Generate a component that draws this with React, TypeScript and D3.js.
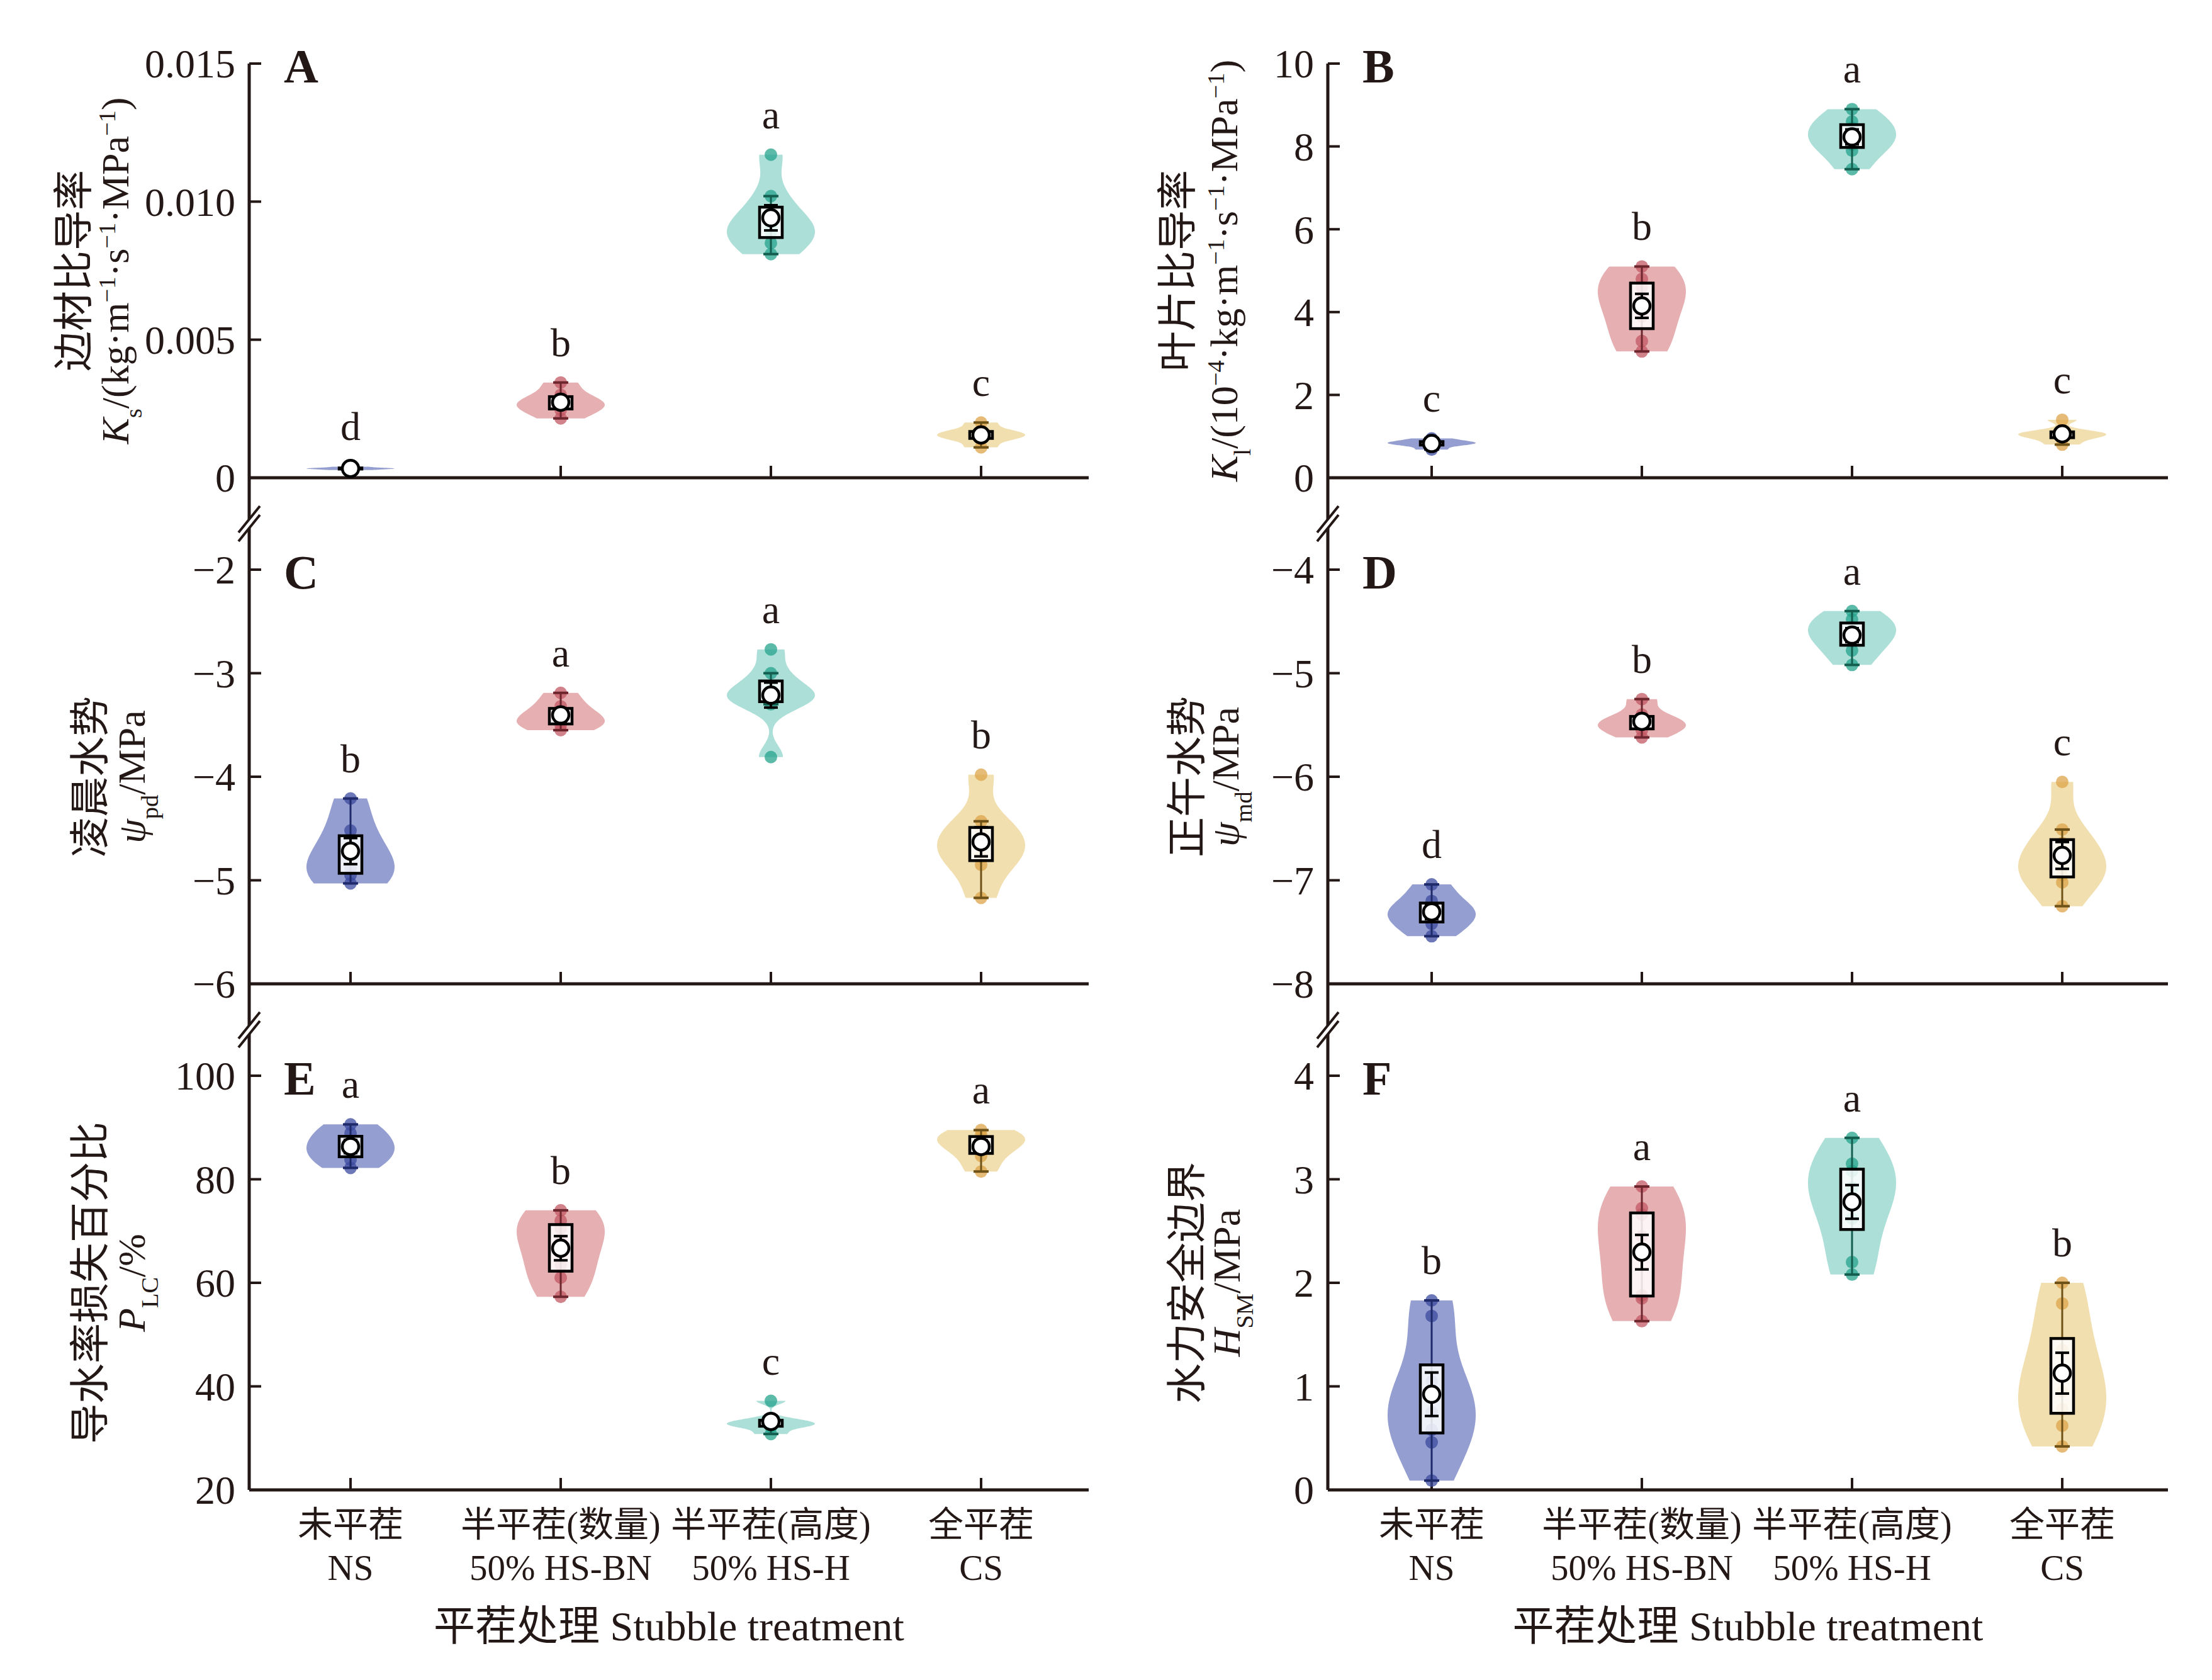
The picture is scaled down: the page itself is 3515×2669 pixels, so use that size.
import React from "react";
import * as d3 from "d3";

// groups and their labels
const groups = ["NS", "HS-BN", "HS-H", "CS"];
const groupNamesCn = ["未平茬", "半平茬(数量)", "半平茬(高度)", "全平茬"];
const groupNamesEn = ["NS", "50% HS-BN", "50% HS-H", "CS"];

const fillColors = ["#8a93cb", "#e3a7ab", "#a3dcd3", "#f0dba7"];
const pointColors = ["#3c4ba0", "#c25863", "#26a38c", "#dca44a"];
const whiskerColors = ["#1f2a6b", "#6e262e", "#145e50", "#6e5218"];

// A: sapwood specific conductivity Ks
const ksValues = [
  [0.00028, 0.00031, 0.00033, 0.00034, 0.00036, 0.0004],
  [0.00215, 0.00245, 0.00262, 0.00275, 0.003, 0.00345],
  [0.0081, 0.0085, 0.0089, 0.0091, 0.0094, 0.0102, 0.0117],
  [0.0011, 0.0014, 0.0015, 0.0016, 0.0017, 0.002],
];
const ksLetters = ["d", "b", "a", "c"];
const ksTicks = [0, 0.005, 0.01, 0.015];
const ksTickLabels = ["0", "0.005", "0.010", "0.015"];

// B: leaf specific conductivity Kl
const klValues = [
  [0.68, 0.78, 0.82, 0.85, 0.88, 0.95],
  [3.05, 3.3, 3.9, 4.3, 4.6, 4.8, 5.1],
  [7.45, 7.9, 8.05, 8.25, 8.45, 8.6, 8.9],
  [0.8, 0.95, 1.02, 1.07, 1.12, 1.4],
];
const klLetters = ["c", "b", "a", "c"];
const klTicks = [0, 2, 4, 6, 8, 10];
const klTickLabels = ["0", "2", "4", "6", "8", "10"];

// C: predawn water potential
const pdValues = [
  [-5.03, -4.95, -4.88, -4.72, -4.52, -4.21],
  [-3.55, -3.5, -3.46, -3.4, -3.32, -3.19],
  [-3.81, -3.3, -3.25, -3.2, -3.15, -3.0, -2.77],
  [-5.17, -4.85, -4.77, -4.65, -4.55, -4.43, -3.98],
];
const pdLetters = ["b", "a", "a", "b"];
const pdTicks = [-6, -5, -4, -3, -2];
const pdTickLabels = ["−6", "−5", "−4", "−3", "−2"];

// D: midday water potential
const mdValues = [
  [-7.54, -7.42, -7.35, -7.28, -7.2, -7.04],
  [-5.62, -5.55, -5.5, -5.47, -5.4, -5.25],
  [-4.92, -4.78, -4.68, -4.62, -4.55, -4.48, -4.4],
  [-7.25, -7.02, -6.95, -6.88, -6.78, -6.64, -6.51, -6.05],
];
const mdLetters = ["d", "b", "a", "c"];
const mdTicks = [-8, -7, -6, -5, -4];
const mdTickLabels = ["−8", "−7", "−6", "−5", "−4"];

// E: percent loss of conductivity
const plcValues = [
  [82.2, 83.8, 86.0, 86.5, 88.9, 90.6],
  [57.3, 61.0, 63.5, 68.5, 70.5, 72.0, 74.0],
  [30.8, 32.2, 32.6, 33.0, 33.6, 37.2],
  [81.5, 84.5, 86.5, 87.5, 88.5, 89.5],
];
const plcLetters = ["a", "b", "c", "a"];
const plcTicks = [20, 40, 60, 80, 100];
const plcTickLabels = ["20", "40", "60", "80", "100"];

// F: hydraulic safety margin
const hsmValues = [
  [0.09, 0.46, 0.58, 0.75, 0.95, 1.05, 1.68, 1.83],
  [1.63, 1.85, 1.88, 2.25, 2.45, 2.66, 2.72, 2.93],
  [2.08, 2.2, 2.62, 2.8, 2.92, 3.08, 3.15, 3.4],
  [0.42, 0.62, 0.78, 0.95, 1.1, 1.35, 1.8, 2.0],
];
const hsmLetters = ["b", "a", "a", "b"];
const hsmTicks = [0, 1, 2, 3, 4];
const hsmTickLabels = ["0", "1", "2", "3", "4"];

const W = 3515;
const H = 2669;
const colX0 = [396, 2110];
const colX1 = [1730, 3445];
const catOffset = [161, 165];
const catStep = 334;
const rowTop = [101, 905, 1709];
const rowH = 658;

const serif = "'Liberation Serif', 'Times New Roman', serif";
const cjk = "'Liberation Serif', 'Noto Sans CJK SC', serif";

const sup = (t: string) => (
  <tspan baselineShift="super" fontSize="62%">
    {t}
  </tspan>
);
const sub = (t: string) => (
  <tspan baselineShift="sub" fontSize="62%">
    {t}
  </tspan>
);

const catScale = (col: number) =>
  d3
    .scalePoint<string>()
    .domain(groups)
    .range([colX0[col] + catOffset[col], colX0[col] + catOffset[col] + 3 * catStep]);

interface PanelSpec {
  letter: string;
  col: number;
  row: number;
  values: number[][];
  letters: string[];
  ticks: number[];
  tickLabels: string[];
  label1: string;
  label2: React.ReactNode;
  label1X: number;
  label2X: number;
}

const panels: PanelSpec[] = [
  {
    letter: "A", col: 0, row: 0, values: ksValues, letters: ksLetters,
    ticks: ksTicks, tickLabels: ksTickLabels, label1: "边材比导率",
    label2: (
      <>
        <tspan fontStyle="italic">K</tspan>{sub("s")}
        <tspan>/(kg·m</tspan>{sup("−1")}<tspan>·s</tspan>{sup("−1")}
        <tspan>·MPa</tspan>{sup("−1")}<tspan>)</tspan>
      </>
    ),
    label1X: 111, label2X: 204,
  },
  {
    letter: "B", col: 1, row: 0, values: klValues, letters: klLetters,
    ticks: klTicks, tickLabels: klTickLabels, label1: "叶片比导率",
    label2: (
      <>
        <tspan fontStyle="italic">K</tspan>{sub("l")}
        <tspan>/(10</tspan>{sup("−4")}<tspan>·kg·m</tspan>{sup("−1")}
        <tspan>·s</tspan>{sup("−1")}<tspan>·MPa</tspan>{sup("−1")}<tspan>)</tspan>
      </>
    ),
    label1X: 1865, label2X: 1966,
  },
  {
    letter: "C", col: 0, row: 1, values: pdValues, letters: pdLetters,
    ticks: pdTicks, tickLabels: pdTickLabels, label1: "凌晨水势",
    label2: (
      <>
        <tspan fontStyle="italic">ψ</tspan>{sub("pd")}<tspan>/MPa</tspan>
      </>
    ),
    label1X: 137, label2X: 230,
  },
  {
    letter: "D", col: 1, row: 1, values: mdValues, letters: mdLetters,
    ticks: mdTicks, tickLabels: mdTickLabels, label1: "正午水势",
    label2: (
      <>
        <tspan fontStyle="italic">ψ</tspan>{sub("md")}<tspan>/MPa</tspan>
      </>
    ),
    label1X: 1880, label2X: 1968,
  },
  {
    letter: "E", col: 0, row: 2, values: plcValues, letters: plcLetters,
    ticks: plcTicks, tickLabels: plcTickLabels, label1: "导水率损失百分比",
    label2: (
      <>
        <tspan fontStyle="italic">P</tspan>{sub("LC")}<tspan>/%</tspan>
      </>
    ),
    label1X: 137, label2X: 230,
  },
  {
    letter: "F", col: 1, row: 2, values: hsmValues, letters: hsmLetters,
    ticks: hsmTicks, tickLabels: hsmTickLabels, label1: "水力安全边界",
    label2: (
      <>
        <tspan fontStyle="italic">H</tspan>{sub("SM")}<tspan>/MPa</tspan>
      </>
    ),
    label1X: 1880, label2X: 1970,
  },
];

// gaussian kernel density, trimmed to the data range
function density(values: number[], steps = 80, adjust = 1.2): [number, number][] {
  const s = values.slice().sort(d3.ascending);
  const n = s.length;
  const sd = d3.deviation(s) ?? 0;
  const iqr = (d3.quantileSorted(s, 0.75) ?? 0) - (d3.quantileSorted(s, 0.25) ?? 0);
  let bw = adjust * 0.9 * Math.min(sd, iqr / 1.34 || sd) * Math.pow(n, -0.2);
  if (!(bw > 0)) bw = 1e-6;
  const lo = s[0];
  const hi = s[n - 1];
  return d3.range(steps + 1).map(i => {
    const v = lo + ((hi - lo) * i) / steps;
    const d = d3.mean(s, x => Math.exp(-0.5 * ((v - x) / bw) ** 2)) ?? 0;
    return [v, d];
  });
}

function boxStats(values: number[]) {
  const s = values.slice().sort(d3.ascending);
  const q1 = d3.quantileSorted(s, 0.25)!;
  const q3 = d3.quantileSorted(s, 0.75)!;
  const iqr = q3 - q1;
  const lowW = d3.min(s.filter(v => v >= q1 - 1.5 * iqr))!;
  const highW = d3.max(s.filter(v => v <= q3 + 1.5 * iqr))!;
  const mean = d3.mean(s)!;
  const se = (d3.deviation(s) ?? 0) / Math.sqrt(s.length);
  return { q1, q3, lowW, highW, mean, se };
}

const Panel: React.FC<{ spec: PanelSpec }> = ({ spec }) => {
  const x0 = colX0[spec.col];
  const x1 = colX1[spec.col];
  const top = rowTop[spec.row];
  const bottom = top + rowH;
  const x = catScale(spec.col);
  const y = d3
    .scaleLinear()
    .domain([spec.ticks[0], spec.ticks[spec.ticks.length - 1]])
    .range([bottom, top]);
  const cy = (top + bottom) / 2;

  return (
    <g>
      {/* x axis */}
      <line x1={x0} x2={x1} y1={bottom} y2={bottom} stroke="#231815" strokeWidth={5} />
      {groups.map(g => (
        <line key={g} x1={x(g)} x2={x(g)} y1={bottom} y2={bottom - 19} stroke="#231815" strokeWidth={4} />
      ))}
      {/* y ticks */}
      {spec.ticks.map((t, i) => (
        <g key={t}>
          <line x1={x0} x2={x0 + 19} y1={y(t)} y2={y(t)} stroke="#231815" strokeWidth={4} />
          <text
            x={x0 - 22}
            y={y(t)}
            dy="0.35em"
            textAnchor="end"
            fontFamily={serif}
            fontSize={64}
            fill="#231815"
          >
            {spec.tickLabels[i]}
          </text>
        </g>
      ))}
      {/* panel letter */}
      <text x={x0 + 55} y={top + 30} fontFamily={serif} fontWeight="bold" fontSize={76} fill="#231815">
        {spec.letter}
      </text>
      {/* y labels */}
      <text
        transform={`translate(${spec.label1X},${cy}) rotate(-90)`}
        textAnchor="middle"
        dominantBaseline="central"
        fontFamily="'Noto Sans CJK SC', sans-serif"
        fontSize={64}
        fill="#231815"
      >
        {spec.label1}
      </text>
      <text
        transform={`translate(${spec.label2X},${cy}) rotate(-90)`}
        textAnchor="middle"
        fontFamily={serif}
        fontSize={62}
        fill="#231815"
      >
        {spec.label2}
      </text>
      {/* violins */}
      {groups.map((g, i) => {
        const vals = spec.values[i];
        const cx = x(g)!;
        const prof = density(vals);
        const maxD = d3.max(prof, d => d[1])!;
        const w = d3.scaleLinear().domain([0, maxD]).range([0, 70]);
        const area = d3
          .area<[number, number]>()
          .y(d => y(d[0]))
          .x0(d => cx - w(d[1]))
          .x1(d => cx + w(d[1]))
          .curve(d3.curveCatmullRom);
        const st = boxStats(vals);
        const maxV = d3.max(vals)!;
        return (
          <g key={g}>
            <path d={area(prof) ?? ""} fill={fillColors[i]} opacity={0.9} />
            {vals.map((v, j) => (
              <circle key={j} cx={cx} cy={y(v)} r={10} fill={pointColors[i]} opacity={0.75} />
            ))}
            <line x1={cx} x2={cx} y1={y(st.lowW)} y2={y(st.highW)} stroke={whiskerColors[i]} strokeWidth={3} />
            {[st.lowW, st.highW].map((v, k) => (
              <line key={k} x1={cx - 12} x2={cx + 12} y1={y(v)} y2={y(v)} stroke={whiskerColors[i]} strokeWidth={4} />
            ))}
            <rect
              x={cx - 18}
              y={y(st.q3)}
              width={36}
              height={Math.max(0, y(st.q1) - y(st.q3))}
              fill="#fff"
              fillOpacity={0.85}
              stroke="#000"
              strokeWidth={4.5}
            />
            <line x1={cx} x2={cx} y1={y(st.mean - st.se)} y2={y(st.mean + st.se)} stroke="#000" strokeWidth={4} />
            {[st.mean - st.se, st.mean + st.se].map((v, k) => (
              <line key={k} x1={cx - 11} x2={cx + 11} y1={y(v)} y2={y(v)} stroke="#000" strokeWidth={4} />
            ))}
            <circle cx={cx} cy={y(st.mean)} r={13} fill="#fff" stroke="#000" strokeWidth={4.5} />
            <text
              x={cx}
              y={y(maxV) - 42}
              textAnchor="middle"
              fontFamily={serif}
              fontSize={64}
              fill="#231815"
            >
              {spec.letters[i]}
            </text>
          </g>
        );
      })}
    </g>
  );
};

const AxisBreak: React.FC<{ ax: number; cy: number }> = ({ ax, cy }) => {
  const dx = 17;
  const dy = 21;
  const o = 7;
  return (
    <g>
      <polygon
        points={`${ax - dx},${cy + dy - o} ${ax + dx},${cy - dy - o} ${ax + dx},${cy - dy + o} ${ax - dx},${cy + dy + o}`}
        fill="#fff"
      />
      {[-o, o].map(k => (
        <line key={k} x1={ax - dx} y1={cy + dy + k} x2={ax + dx} y2={cy - dy + k} stroke="#231815" strokeWidth={4} />
      ))}
    </g>
  );
};

export default function App() {
  return (
    <div style={{ position: "absolute", left: 0, top: 0 }}>
      <svg width={W} height={H} viewBox={`0 0 ${W} ${H}`}>
        <rect width={W} height={H} fill="#fff" />
        {/* continuous y axes */}
        {colX0.map(ax => (
          <line key={ax} x1={ax} x2={ax} y1={rowTop[0]} y2={rowTop[2] + rowH} stroke="#231815" strokeWidth={5} />
        ))}
        {panels.map(p => (
          <Panel key={p.letter} spec={p} />
        ))}
        {colX0.map(ax =>
          [0, 1].map(r => (
            <AxisBreak key={`${ax}-${r}`} ax={ax} cy={(rowTop[r] + rowH + rowTop[r + 1]) / 2} />
          ))
        )}
        {/* category labels and axis titles */}
        {[0, 1].map(c => {
          const x = catScale(c);
          return (
            <g key={c}>
              {groups.map((g, i) => (
                <g key={g}>
                  <text x={x(g)} y={2441} textAnchor="middle" fontFamily={cjk} fontSize={56} fill="#231815">
                    {groupNamesCn[i]}
                  </text>
                  <text x={x(g)} y={2510} textAnchor="middle" fontFamily={serif} fontSize={57} fill="#231815">
                    {groupNamesEn[i]}
                  </text>
                </g>
              ))}
              <text
                x={(colX0[c] + colX1[c]) / 2}
                y={2606}
                textAnchor="middle"
                fontFamily={cjk}
                fontSize={66}
                fill="#231815"
              >
                平茬处理 Stubble treatment
              </text>
            </g>
          );
        })}
      </svg>
    </div>
  );
}
